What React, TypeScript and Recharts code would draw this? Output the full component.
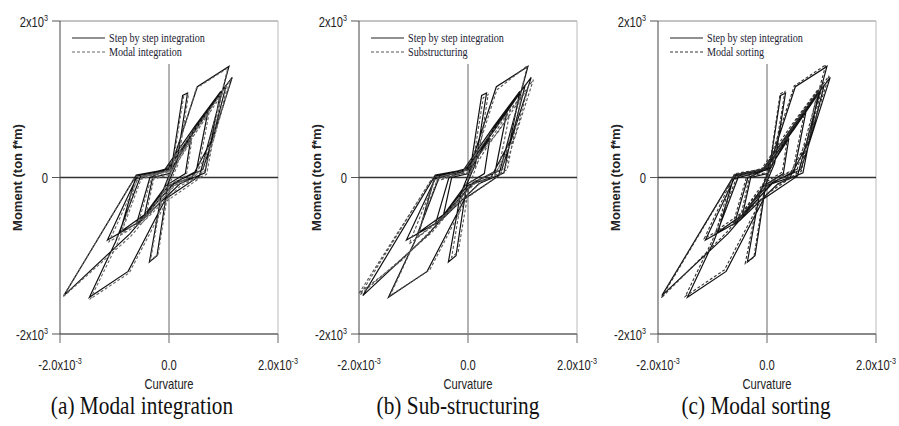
import React from 'react';
import { LineChart, Line, XAxis, YAxis, ReferenceLine, Legend } from 'recharts';

// curvature in 10^-3, moment in 10^3 ton f*m
const xTicks = [-2, 0, 2];
const xTickText = ['-2.0x10', '0.0', '2.0x10'];
const xTickExp = ['-3', '', '-3'];
const yTicks = [-2, 0, 2];
const yTickText = ['-2x10', '0', '2x10'];
const yTickExp = ['3', '', '3'];

// step by step integration (reference response, same in all panels)
const stepByStep = [
  [0, 0], [0.05, 0.14], [0.25, 1.05], [0.34, 1.08], [0.14, 0.18], [-0.02, -0.08],
  [-0.22, -1.0], [-0.36, -1.08], [-0.14, -0.22], [0.02, 0.06], [0.3, 0.42], [0.72, 0.86],
  [0.5, 0.08], [0.12, -0.06], [-0.4, -0.45], [-0.9, -0.7], [-0.62, -0.02], [-0.1, 0.08],
  [0.48, 0.66], [0.95, 1.1], [0.66, 0.06], [0.2, -0.08], [-0.5, -0.55], [-1.13, -0.8],
  [-0.58, 0.02], [0.02, 0.1], [0.52, 1.16], [1.1, 1.42], [0.56, 0.02], [-0.06, -0.27],
  [-0.75, -1.2], [-1.46, -1.53], [-0.98, -0.82], [-0.52, 0.02], [0.0, 0.12], [0.6, 0.76],
  [1.16, 1.28], [0.62, 0.1], [0.1, -0.06], [-0.72, -0.72], [-1.93, -1.51], [-0.6, 0.03],
  [-0.05, 0.1], [0.5, 0.62], [1.05, 1.18], [0.8, 0.5], [0.42, 0.0], [0.0, -0.1],
  [-0.6, -0.6], [-0.35, 0.0], [0.05, 0.12], [0.4, 0.5], [0.3, 0.05], [-0.05, -0.1],
  [-0.45, -0.48], [-0.3, 0.0], [0.0, 0.05],
];

const modalIntegration = [
  [0, 0], [0.06, 0.12], [0.27, 1.04], [0.36, 1.07], [0.16, 0.16], [0.0, -0.1],
  [-0.2, -0.98], [-0.34, -1.06], [-0.12, -0.2], [0.03, 0.05], [0.33, 0.4], [0.74, 0.84],
  [0.53, 0.06], [0.14, -0.08], [-0.38, -0.47], [-0.88, -0.72], [-0.6, -0.04], [-0.08, 0.07],
  [0.5, 0.64], [0.97, 1.08], [0.69, 0.04], [0.22, -0.1], [-0.48, -0.57], [-1.1, -0.82],
  [-0.56, 0.0], [0.04, 0.09], [0.5, 1.14], [1.08, 1.4], [0.58, 0.0], [-0.04, -0.3],
  [-0.73, -1.22], [-1.44, -1.55], [-0.95, -0.85], [-0.5, 0.0], [0.02, 0.1], [0.62, 0.74],
  [1.14, 1.26], [0.65, 0.08], [0.12, -0.08], [-0.7, -0.75], [-1.95, -1.53], [-0.62, 0.01],
  [-0.03, 0.08], [0.52, 0.6], [1.07, 1.16], [0.82, 0.48], [0.45, -0.02], [0.02, -0.12],
  [-0.58, -0.62], [-0.33, -0.02], [0.07, 0.1], [0.42, 0.48], [0.32, 0.03], [-0.03, -0.12],
  [-0.43, -0.5], [-0.28, -0.02], [0.02, 0.04],
];

const subStructuring = [
  [0, 0], [0.07, 0.1], [0.28, 1.02], [0.37, 1.06], [0.18, 0.2], [0.02, -0.12],
  [-0.18, -0.95], [-0.3, -1.02], [-0.1, -0.18], [0.04, 0.04], [0.34, 0.38], [0.76, 0.8],
  [0.56, 0.1], [0.16, -0.05], [-0.36, -0.44], [-0.92, -0.76], [-0.64, -0.06], [-0.12, 0.05],
  [0.46, 0.6], [0.98, 1.04], [0.72, 0.1], [0.24, -0.06], [-0.46, -0.52], [-1.08, -0.85],
  [-0.6, -0.02], [0.05, 0.08], [0.53, 1.12], [1.09, 1.43], [0.6, 0.04], [-0.02, -0.26],
  [-0.7, -1.18], [-1.43, -1.51], [-1.0, -0.86], [-0.55, 0.0], [0.03, 0.11], [0.64, 0.72],
  [1.2, 1.25], [0.68, 0.12], [0.14, -0.04], [-0.66, -0.7], [-1.98, -1.5], [-0.65, 0.0],
  [-0.06, 0.07], [0.55, 0.58], [1.1, 1.14], [0.86, 0.52], [0.48, 0.02], [0.04, -0.1],
  [-0.55, -0.58], [-1.2, -1.05], [-2.0, -1.48], [-0.68, -0.04], [-0.3, 0.02], [0.02, 0.06],
];

const modalSorting = [
  [0, 0], [0.05, 0.16], [0.24, 1.07], [0.33, 1.1], [0.12, 0.2], [-0.03, -0.06],
  [-0.24, -1.02], [-0.4, -1.1], [-0.16, -0.24], [0.01, 0.07], [0.28, 0.44], [0.7, 0.88],
  [0.48, 0.1], [0.1, -0.04], [-0.42, -0.43], [-0.93, -0.68], [-0.64, 0.0], [-0.12, 0.09],
  [0.46, 0.68], [0.93, 1.12], [0.63, 0.08], [0.18, -0.1], [-0.52, -0.53], [-1.15, -0.78],
  [-0.6, 0.04], [0.0, 0.11], [0.5, 1.17], [1.08, 1.44], [0.53, 0.04], [-0.08, -0.25],
  [-0.78, -1.18], [-1.5, -1.52], [-1.0, -0.8], [-0.54, 0.03], [-0.02, 0.13], [0.58, 0.78],
  [1.14, 1.3], [0.6, 0.12], [0.08, -0.04], [-0.74, -0.7], [-1.94, -1.54], [-0.58, 0.05],
  [-0.07, 0.11], [0.48, 0.64], [1.03, 1.2], [0.78, 0.52], [0.4, 0.02], [-0.02, -0.08],
  [-0.62, -0.58], [-0.37, 0.02], [0.03, 0.14], [0.38, 0.52], [0.28, 0.07], [-0.07, -0.08],
  [-0.47, -0.46], [-0.32, 0.02], [-0.02, 0.06],
];

const toPoints = (path: number[][]) => path.map(([c, m]) => ({ c, m }));

const panels = [
  { left: 0, caption: '(a) Modal integration', captionX: 142, name: 'Modal integration', path: modalIntegration, dash: '#666' },
  { left: 299, caption: '(b) Sub-structuring', captionX: 159, name: 'Substructuring', path: subStructuring, dash: '#555' },
  { left: 598, caption: '(c) Modal sorting', captionX: 158, name: 'Modal sorting', path: modalSorting, dash: '#333' },
];

const SANS = '"Liberation Sans", Arial, sans-serif';
const SERIF = '"Liberation Serif", "Times New Roman", serif';

function XTick({ x, y, index }: any) {
  return (
    <text transform={`translate(${x},${y + 27}) scale(0.8,1)`} textAnchor="middle" fontSize={14} fontFamily={SANS} fill="#222">
      {xTickText[index]}
      {xTickExp[index] && <tspan fontSize={9} dy={-6}>{xTickExp[index]}</tspan>}
    </text>
  );
}

function YTick({ x, y, index }: any) {
  return (
    <text transform={`translate(${x},${y + 5.5}) scale(0.8,1)`} textAnchor="end" fontSize={14} fontFamily={SANS} fill="#222">
      {yTickText[index]}
      {yTickExp[index] && <tspan fontSize={9} dy={-6}>{yTickExp[index]}</tspan>}
    </text>
  );
}

function XTitle({ viewBox, caption, captionX }: any) {
  const vb = viewBox || { x: 60, y: 334, width: 218 };
  return (
    <g>
      <text transform={`translate(${vb.x + vb.width / 2},${vb.y + 55}) scale(0.8,1)`} textAnchor="middle" fontSize={14} fontFamily={SANS} fill="#222">
        Curvature
      </text>
      <text transform={`translate(${captionX},${vb.y + 80}) scale(0.82,1)`} textAnchor="middle" fontSize={26} fontFamily={SERIF} fill="#111">
        {caption}
      </text>
    </g>
  );
}

function YTitle({ viewBox }: any) {
  const vb = viewBox || { x: 0, y: 21, height: 313 };
  return (
    <text transform={`translate(22,${vb.y + vb.height / 2}) rotate(-90)`} textAnchor="middle" fontSize={13} fontWeight="bold" fontFamily={SANS} fill="#222">
      Moment (ton f*m)
    </text>
  );
}

function LegendBox({ name, dash }: { name: string; dash: string }) {
  return (
    <svg width={190} height={40} style={{ display: 'block', overflow: 'visible' }}>
      <line x1={0} y1={10} x2={33} y2={10} stroke="#222" strokeWidth={1.2} />
      <line x1={0} y1={24} x2={33} y2={24} stroke={dash} strokeDasharray="3 2" />
      <text transform="translate(37,14) scale(0.78,1)" fontSize={13} fontFamily={SERIF} fill="#223">
        Step by step integration
      </text>
      <text transform="translate(37,28) scale(0.78,1)" fontSize={13} fontFamily={SERIF} fill="#223">
        {name}
      </text>
    </svg>
  );
}

function Panel({ panel }: any) {
  return (
    <div style={{ position: 'absolute', left: panel.left, top: 0 }}>
      <LineChart width={300} height={426} margin={{ top: 21, right: 22, bottom: 32, left: 0 }}>
        <XAxis
          type="number"
          dataKey="c"
          domain={[-2, 2]}
          ticks={xTicks}
          allowDataOverflow
          height={60}
          tickSize={9}
          tickMargin={0}
          axisLine={{ stroke: '#888', strokeWidth: 2 }}
          tickLine={{ stroke: '#666' }}
          tick={<XTick />}
          label={<XTitle caption={panel.caption} captionX={panel.captionX} />}
        />
        <YAxis
          type="number"
          domain={[-2, 2]}
          ticks={yTicks}
          allowDataOverflow
          width={60}
          tickSize={8}
          tickMargin={4}
          axisLine={{ stroke: '#444' }}
          tickLine={{ stroke: '#555' }}
          tick={<YTick />}
          label={<YTitle />}
        />
        <ReferenceLine y={2} stroke="#888" />
        <ReferenceLine x={2} stroke="#bbb" />
        <ReferenceLine y={0} stroke="#333" strokeWidth={1.5} />
        <ReferenceLine segment={[{ x: 0, y: 1.45 }, { x: 0, y: -2 }]} stroke="#666" />
        <Legend
          layout="vertical"
          verticalAlign="middle"
          align="center"
          wrapperStyle={{ top: 28, left: 72, width: 190, height: 40 }}
          content={() => <LegendBox name={panel.name} dash={panel.dash} />}
        />
        <Line data={toPoints(stepByStep)} dataKey="m" type="linear" stroke="#111" strokeWidth={1.2} dot={false} isAnimationActive={false} />
        <Line data={toPoints(panel.path)} dataKey="m" type="linear" stroke={panel.dash} strokeWidth={1.1} strokeDasharray="3 2" dot={false} isAnimationActive={false} />
      </LineChart>
    </div>
  );
}

export default function App() {
  return (
    <div style={{ position: 'absolute', left: 0, top: 0, width: 899, height: 426, background: '#fff', overflow: 'hidden' }}>
      {panels.map((p) => (
        <Panel key={p.caption} panel={p} />
      ))}
    </div>
  );
}
